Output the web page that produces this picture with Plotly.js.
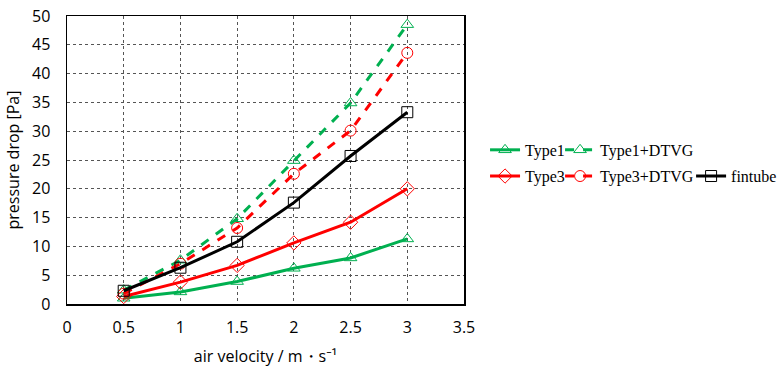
<!DOCTYPE html>
<html><head><meta charset="utf-8">
<script src="https://cdn.plot.ly/plotly-3.0.1.min.js"></script>
<style>html,body{margin:0;padding:0;background:#fff}#chart{width:783px;height:372px}</style>
</head><body><div id="chart"></div>
<script>
const velocity = [0.5, 1, 1.5, 2, 2.5, 3];
const type1 = [1.0, 2.1, 3.9, 6.2, 8.0, 11.3];
const type1DTVG = [2.4, 7.6, 14.8, 24.9, 34.9, 48.5];
const type3 = [1.3, 3.8, 6.7, 10.6, 14.2, 20.0];
const type3DTVG = [1.8, 7.0, 13.2, 22.6, 30.1, 43.6];
const fintube = [2.3, 6.3, 10.8, 17.6, 25.7, 33.3];
const xTicks = [0, 0.5, 1, 1.5, 2, 2.5, 3, 3.5];
const yTicks = [0, 5, 10, 15, 20, 25, 30, 35, 40, 45, 50];

const green = '#00B050', red = '#FF0000', black = '#000000';
function tr(name, y, color, dash, symbol, legend) {
  return {x: velocity, y: y, name: name, type: 'scatter', mode: 'lines+markers',
    line: {color: color, width: 3, dash: dash},
    marker: {symbol: symbol, size: 11, color: color, line: {color: color, width: 1}},
    legend: legend};
}
const data = [
  tr('Type1', type1, green, 'solid', 'triangle-up-open', 'legend'),
  tr('Type1+DTVG', type1DTVG, green, 'dash', 'triangle-up-open', 'legend2'),
  tr('Type3', type3, red, 'solid', 'diamond-open', 'legend3'),
  tr('Type3+DTVG', type3DTVG, red, 'dash', 'circle-open', 'legend4'),
  tr('fintube', fintube, black, 'solid', 'square-open', 'legend5')
];
const sans = '"Open Sans", "Noto Sans", sans-serif';
const legFont = {family: '"Liberation Serif", "DejaVu Serif", serif', size: 16, color: '#000'};
function leg(x, y) {
  return {orientation: 'h', x: x, y: y, xref: 'paper', yref: 'paper', xanchor: 'left', yanchor: 'middle',
    font: legFont, bgcolor: 'rgba(0,0,0,0)', itemwidth: 30, tracegroupgap: 0};
}
const layout = {
  width: 783, height: 372,
  margin: {l: 67, r: 319, t: 16, b: 68, autoexpand: false},
  paper_bgcolor: '#fff', plot_bgcolor: '#fff',
  showlegend: true,
  font: {family: sans, size: 16, color: '#000'},
  xaxis: {range: [0, 3.5], tickvals: xTicks, ticktext: xTicks.map(String),
    showgrid: true, gridcolor: '#555', griddash: 'dot', gridwidth: 1,
    showline: true, linecolor: '#000', linewidth: 1.5, mirror: true,
    ticks: '', zeroline: false, tickfont: {family: sans, size: 16}, ticklabelstandoff: 8,
    title: {text: 'air velocity / m・s⁻¹', font: {family: sans, size: 16}, standoff: 14}},
  yaxis: {range: [0, 50], tickvals: yTicks, ticktext: yTicks.map(String),
    showgrid: true, gridcolor: '#555', griddash: 'dot', gridwidth: 1,
    showline: true, linecolor: '#000', linewidth: 1.5, mirror: true,
    ticks: '', zeroline: false, tickfont: {family: sans, size: 16}, ticklabelstandoff: 12,
    title: {text: 'pressure drop [Pa]', font: {family: sans, size: 16}, standoff: 8}},
  legend: leg(1.053, 0.535),
  legend2: leg(1.242, 0.535),
  legend3: leg(1.053, 0.444),
  legend4: leg(1.242, 0.444),
  legend5: leg(1.572, 0.444)
};
Plotly.newPlot('chart', data, layout, {displayModeBar: false, staticPlot: true});
</script></body></html>
